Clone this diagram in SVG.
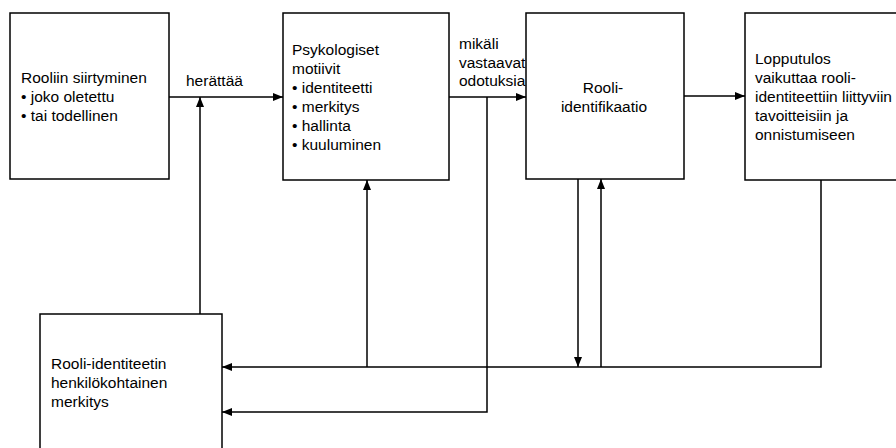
<svg xmlns="http://www.w3.org/2000/svg" width="896" height="448" viewBox="0 0 896 448">
<defs>
<marker id="ah" viewBox="0 0 10 8" refX="10" refY="4" markerWidth="10" markerHeight="8" markerUnits="userSpaceOnUse" orient="auto">
<path d="M0,0 L10,4 L0,8 Z" fill="#000"/>
</marker>
<style>
.box{fill:#fff;stroke:#000;stroke-width:1.5}
.t{font-family:"Liberation Sans",Arial,sans-serif;font-size:15.5px;fill:#000}
.c{fill:none;stroke:#000;stroke-width:1.5}
.a{marker-end:url(#ah)}
</style>
</defs>
<rect width="896" height="448" fill="#fff"/>
<g id="n1">
<rect class="box" x="10" y="13" width="159" height="166"/>
<text class="t" x="21" y="83">Rooliin siirtyminen</text>
<text class="t" x="21" y="102">• joko oletettu</text>
<text class="t" x="21" y="121">• tai todellinen</text>
</g>
<g id="n2">
<rect class="box" x="283" y="13" width="166" height="167"/>
<text class="t" x="292" y="55">Psykologiset</text>
<text class="t" x="292" y="74">motiivit</text>
<text class="t" x="292" y="93">• identiteetti</text>
<text class="t" x="292" y="112">• merkitys</text>
<text class="t" x="292" y="131">• hallinta</text>
<text class="t" x="292" y="150">• kuuluminen</text>
</g>
<g id="n3">
<rect class="box" x="526" y="13" width="158" height="166"/>
<text class="t" x="603" y="93" text-anchor="middle">Rooli-</text>
<text class="t" x="604" y="112" text-anchor="middle">identifikaatio</text>
</g>
<g id="n4">
<rect class="box" x="745" y="13" width="160" height="167"/>
<text class="t" x="755" y="64">Lopputulos</text>
<text class="t" x="755" y="83">vaikuttaa rooli-</text>
<text class="t" x="755" y="102">identiteettiin liittyviin</text>
<text class="t" x="755" y="121">tavoitteisiin ja</text>
<text class="t" x="755" y="140">onnistumiseen</text>
</g>
<g id="n5">
<rect class="box" x="40" y="314" width="182" height="145"/>
<text class="t" x="51" y="369">Rooli-identiteetin</text>
<text class="t" x="51" y="388">henkilökohtainen</text>
<text class="t" x="51" y="407">merkitys</text>
</g>
<g id="connectors">
<path class="c a" d="M169,97 H283"/>
<path class="c a" d="M449,97 H526"/>
<path class="c a" d="M684,96 H745"/>
<path class="c a" d="M200,314 V97"/>
<path class="c a" d="M367,367 V180"/>
<path class="c a" d="M578,179 V367"/>
<path class="c a" d="M601,367 V179"/>
<path class="c a" d="M821,180 V367 H222"/>
<path class="c a" d="M487,97 V412 H222"/>
<text class="t" x="186" y="86">herättää</text>
<text class="t" x="459" y="49">mikäli</text>
<text class="t" x="459" y="68">vastaavat</text>
<text class="t" x="459" y="86">odotuksia</text>
</g>
</svg>
